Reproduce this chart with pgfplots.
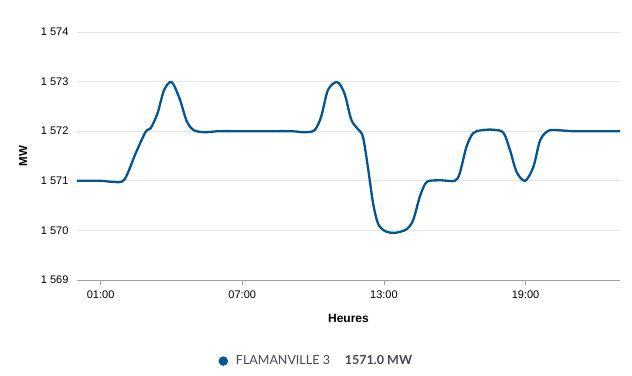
\documentclass[border=0pt]{standalone}
\usepackage{pgfplots}
\pgfplotsset{compat=1.18}
\usepackage{fontspec}
\setmainfont{Liberation Sans}
\newfontfamily\lato{Lato}
\definecolor{line}{HTML}{04548F}
\definecolor{grid}{HTML}{E6E6E6}
\definecolor{axisc}{HTML}{A0A0A0}
\definecolor{legtext}{HTML}{4A4553}
\begin{document}
\begin{tikzpicture}
\path[use as bounding box] (-77bp,-96bp) rectangle (555bp,280bp);
\begin{axis}[
  at={(0,0)}, anchor=south west,
  scale only axis, width=543bp, height=248bp,
  xmin=0, xmax=23, ymin=1569, ymax=1574,
  xtick={1,7,13,19}, xticklabels={01:00,07:00,13:00,19:00},
  ytick={1569,1570,1571,1572,1573,1574},
  yticklabels={1 569,1 570,1 571,1 572,1 573,1 574},
  ymajorgrids, y grid style={grid, line width=0.8bp},
  axis x line*=bottom, axis y line*=left,
  y axis line style={draw=none},
  ytick style={draw=none},
  x axis line style={axisc, line width=0.8bp, -},
  xtick style={axisc, line width=0.8bp},
  major tick length=5bp,
  xtick align=outside,
  tick label style={font=\fontsize{11bp}{12bp}\selectfont, black},
  xticklabel style={yshift=-2bp},
  yticklabel style={xshift=-5bp},
  xlabel={\textbf{Heures}}, ylabel={\textbf{MW}},
  xlabel style={font=\fontsize{12bp}{13bp}\selectfont, yshift=-9bp},
  ylabel style={font=\fontsize{11.5bp}{13bp}\selectfont, yshift=7bp},
  legend style={at={(0.255,-0.327)}, anchor=west, draw=none, fill=none,
    font=\lato\fontsize{12.5bp}{14bp}\selectfont\color{legtext}},
  legend image code/.code={\fill[line] (0.25em,0) circle (3.5bp);},
]
\addplot[line, line width=2.3bp, smooth, tension=0.5] coordinates {
(0,1571) (1,1571) (1.5,1570.98) (2.0,1571.02) (2.49,1571.56) (2.91,1571.99)
(3.12,1572.06) (3.41,1572.36) (3.69,1572.83) (4.01,1572.99) (4.35,1572.65)
(4.65,1572.2) (4.95,1572.02) (5.4,1571.98) (6,1572) (7,1572) (8,1572)
(9.07,1572) (9.63,1571.98) (10.06,1572.02) (10.34,1572.29) (10.63,1572.83)
(11.02,1572.99) (11.33,1572.76) (11.62,1572.23) (11.9,1572.04) (12.11,1571.89)
(12.32,1571.28) (12.54,1570.55) (12.75,1570.14) (13.03,1569.99) (13.45,1569.95)
(13.95,1570.02) (14.24,1570.21) (14.52,1570.68) (14.75,1570.94) (14.94,1571.0)
(15.44,1571.01) (16.0,1571.0) (16.21,1571.15) (16.5,1571.69) (16.78,1571.96)
(17.14,1572.02) (17.63,1572.03) (18.06,1571.97) (18.34,1571.62) (18.62,1571.18)
(18.98,1571.0) (19.33,1571.28) (19.62,1571.82) (19.97,1572.01) (20.39,1572.02)
(21,1572) (22,1572) (23,1572)};
\addlegendentry{\hspace{6bp}FLAMANVILLE 3\hspace{15bp}\textbf{1571.0 MW}}
\end{axis}
\end{tikzpicture}
\end{document}
